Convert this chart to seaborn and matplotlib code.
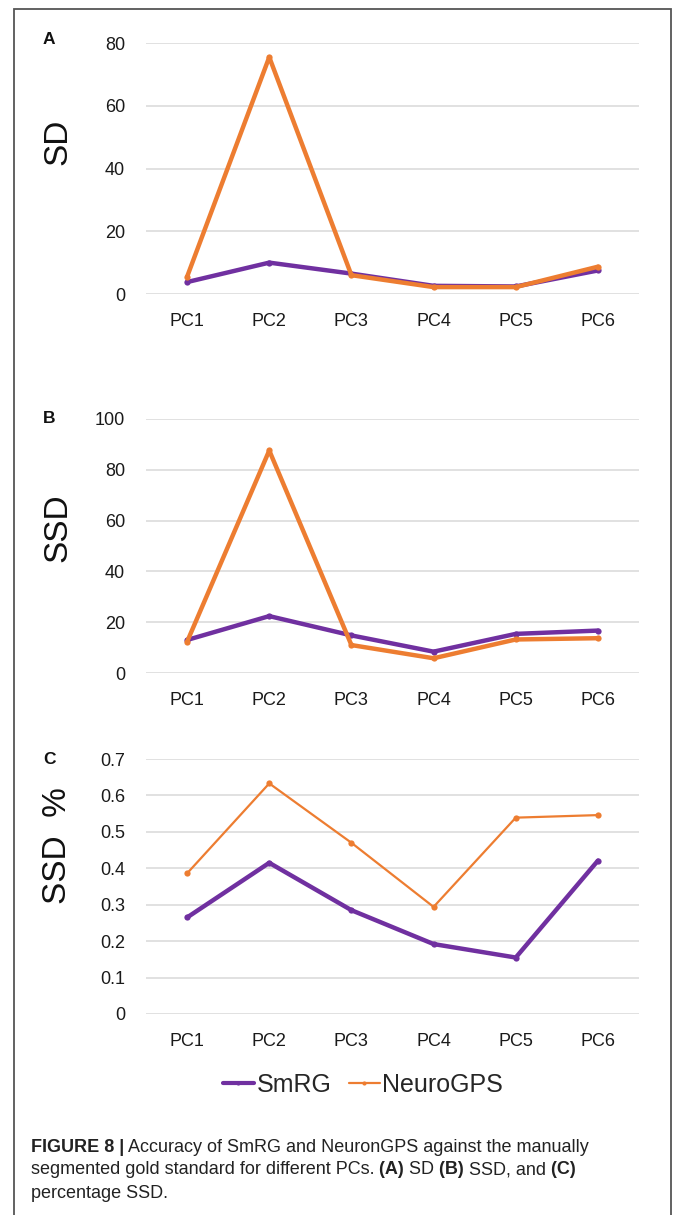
"""
Figure 8 - Accuracy of SmRG and NeuroGPS against the manual gold standard
Three stacked line panels: SD, SSD and percentage SSD per PC
"""

import matplotlib
matplotlib.use("Agg")
import pandas as pd
import matplotlib.pyplot as plt
import seaborn as sns
from matplotlib.lines import Line2D
from matplotlib.patches import Rectangle

# ---- data ----
pcs = ["PC1", "PC2", "PC3", "PC4", "PC5", "PC6"]
methods = ["SmRG", "NeuroGPS"]

sd_smrg = [3.8, 10.0, 6.5, 2.6, 2.4, 7.5]
sd_neurogps = [5.5, 75.5, 6.0, 2.2, 2.2, 8.7]

ssd_smrg = [13.0, 22.4, 14.8, 8.4, 15.4, 16.7]
ssd_neurogps = [12.3, 87.6, 11.0, 5.8, 13.2, 13.7]

pct_smrg = [0.265, 0.415, 0.285, 0.192, 0.155, 0.421]
pct_neurogps = [0.386, 0.633, 0.470, 0.294, 0.539, 0.546]

colors = {"SmRG": "#7030A0", "NeuroGPS": "#ED7D31"}

W, H = 674, 1215
SANS = ["Liberation Sans", "DejaVu Sans"]


def fx(px):
    return px / W


def fy(py):
    return 1 - py / H


def draw_panel(fig, top, bottom, smrg, neuro, ymax, yticks, ticklabels, lws):
    ax = fig.add_axes([fx(146), fy(bottom), fx(639) - fx(146), fy(top) - fy(bottom)])
    for name, vals, lw in [("SmRG", smrg, lws[0]), ("NeuroGPS", neuro, lws[1])]:
        df = pd.DataFrame({"PC": pcs, "value": vals})
        sns.lineplot(data=df, x="PC", y="value", color=colors[name], linewidth=lw,
                     marker="o", markersize=4.5, markeredgewidth=0, sort=False,
                     ax=ax, legend=False, zorder=3)
    ax.set_xlim(-0.5, 5.5)
    ax.set_ylim(0, ymax)
    ax.set_yticks(yticks)
    ax.set_yticklabels(ticklabels)
    ax.set_xlabel("")
    ax.set_ylabel("")
    for s in ax.spines.values():
        s.set_visible(False)
    ax.grid(axis="y", color="#d9d9d9", linewidth=1.1)
    ax.grid(axis="x", visible=False)
    ax.set_axisbelow(True)
    ax.tick_params(axis="y", length=0, pad=15, labelsize=13, labelcolor="#1a1a1a")
    ax.tick_params(axis="x", length=0, pad=13.5, labelsize=13, labelcolor="#1a1a1a")
    return ax


def rich_line(fig, x, y, parts, size):
    renderer = fig.canvas.get_renderer()
    for text, bold in parts:
        t = fig.text(x, y, text, fontsize=size, family=SANS, color="#222222",
                     fontweight="bold" if bold else "normal", va="center")
        x += t.get_window_extent(renderer).width / fig.bbox.width


sns.set_theme(style="white")
plt.rcParams["font.family"] = SANS

fig = plt.figure(figsize=(W / 100, H / 100), dpi=100)

# panel A
draw_panel(fig, 43, 294, sd_smrg, sd_neurogps, 80, [0, 20, 40, 60, 80],
           ["0", "20", "40", "60", "80"], (3.2, 3.2))
# panel B
draw_panel(fig, 419, 673, ssd_smrg, ssd_neurogps, 100, [0, 20, 40, 60, 80, 100],
           ["0", "20", "40", "60", "80", "100"], (3.2, 3.2))
# panel C
cticks = [0, 0.1, 0.2, 0.3, 0.4, 0.5, 0.6, 0.7]
draw_panel(fig, 759, 1014, pct_smrg, pct_neurogps, 0.7, cticks,
           ["0", "0.1", "0.2", "0.3", "0.4", "0.5", "0.6", "0.7"], (3.2, 1.6))

# panel letters
for letter, py in [("A", 40), ("B", 419), ("C", 759)]:
    fig.text(fx(49), fy(py), letter, fontsize=12.5, fontweight="bold", family=SANS,
             ha="center", va="center", color="#111111")

# y labels
for label, py in [("SD", 142), ("SSD", 528), ("SSD  %", 846)]:
    fig.text(fx(58), fy(py), label, fontsize=24, family=SANS, rotation=90,
             ha="center", va="center", color="#111111")

# legend (styled like panel C)
handles = [Line2D([0], [0], color=colors["SmRG"], linewidth=3, marker="o",
                  markersize=3, markeredgewidth=0),
           Line2D([0], [0], color=colors["NeuroGPS"], linewidth=1.6, marker="o",
                  markersize=3, markeredgewidth=0)]
fig.legend(handles, methods, loc="center", bbox_to_anchor=(fx(363), fy(1085)),
           ncol=2, frameon=False, handlelength=1.25, handletextpad=0.1,
           columnspacing=0.7, prop={"family": SANS, "size": 18})

# caption
cap_size = 13
rich_line(fig, fx(31), fy(1147), [("FIGURE 8 |", True),
          (" Accuracy of SmRG and NeuronGPS against the manually", False)], cap_size)
rich_line(fig, fx(31), fy(1170), [("segmented gold standard for different PCs.", False),
          (" (A)", True), (" SD", False), (" (B)", True), (" SSD, and", False),
          (" (C)", True)], cap_size)
rich_line(fig, fx(31), fy(1193), [("percentage SSD.", False)], cap_size)

# outer frame
fig.patches.append(Rectangle((fx(14), -0.01), fx(671) - fx(14), fy(9) + 0.01,
                             transform=fig.transFigure, fill=False,
                             edgecolor="#555555", linewidth=1.3))

fig.savefig("out.png", dpi=100)
